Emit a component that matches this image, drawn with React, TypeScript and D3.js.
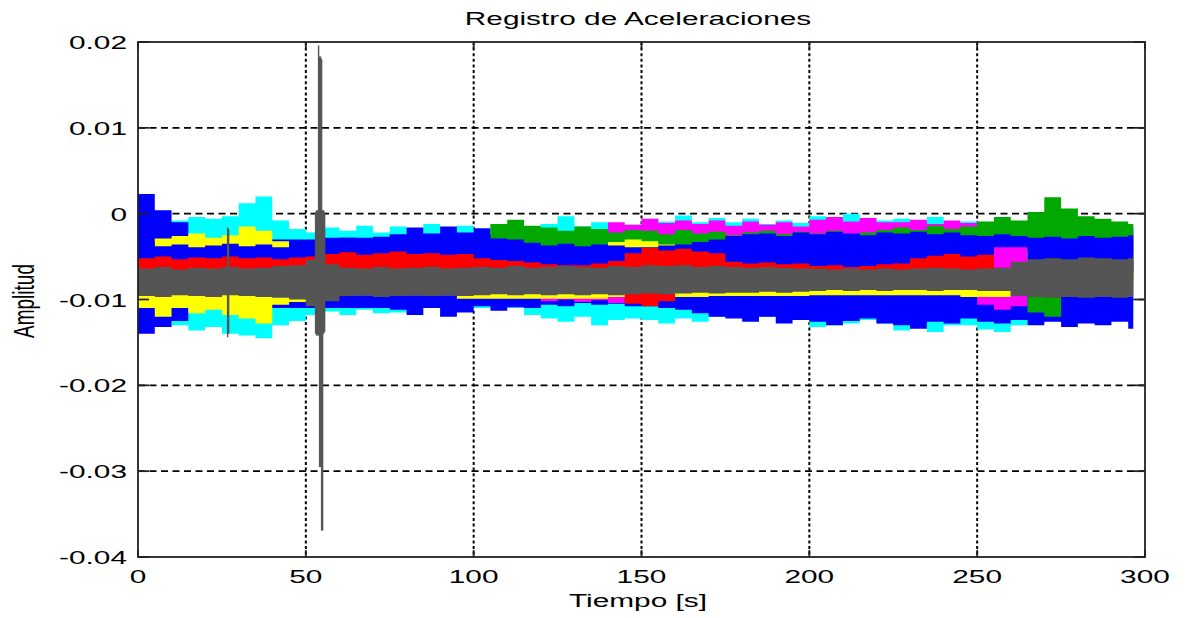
import React from 'react';
import * as d3 from 'd3';

const W = 1186;
const H = 618;
const PLOT = { left: 138, right: 1145, top: 42, bottom: 557 };

const TITLE = 'Registro de Aceleraciones';
const X_LABEL = 'Tiempo [s]';
const Y_LABEL = 'Amplitud';
const X_TICKS = [0, 50, 100, 150, 200, 250, 300];
const X_TICK_LABELS = ['0', '50', '100', '150', '200', '250', '300'];
const Y_TICKS = [0.02, 0.01, 0, -0.01, -0.02, -0.03, -0.04];
const Y_TICK_LABELS = ['0.02', '0.01', '0', '-0.01', '-0.02', '-0.03', '-0.04'];

// start of each 5 s window (s); the record ends at END_T
const BIN_START = [
  0, 5, 10, 15, 20, 25, 30, 35, 40, 45, 50, 55, 60, 65, 70, 75, 80, 85, 90, 95,
  100, 105, 110, 115, 120, 125, 130, 135, 140, 145, 150, 155, 160, 165, 170, 175, 180, 185, 190, 195,
  200, 205, 210, 215, 220, 225, 230, 235, 240, 245, 250, 255, 260, 265, 270, 275, 280, 285, 290, 295,
];
const END_T = 296.5;
const MILLI = 1e-3; // envelope values below are in thousandths

// per-window max / min of each channel (x1e-3)
const CYAN_HI = [-2.5, -2.2, -0.8, -0.4, -0.6, -0.3, 1.2, 2.0, -0.8, -1.8, -2.2, -1.6, -2.0, -1.4, -2.2, -1.5, -2.3, -1.2, -2.2, -1.4,
  -2.4, -1.3, -2.2, -2.0, -1.2, -0.3, -1.5, -1.0, -1.6, -1.3, -0.6, -0.9, -0.2, -1.0, -0.5, -1.0, -0.6, -1.2, -0.8, -1.1,
  -0.3, -0.6, 0.0, -0.5, -0.8, -0.6, -1.0, -0.4, -1.2, -0.9, -1.5, -1.5, -1.5, -1.5, -1.5, -1.5, -1.5, -1.5, -1.5, -1.5];
const CYAN_LO = [-12.0, -12.2, -13.0, -13.6, -13.2, -14.0, -14.2, -14.5, -13.0, -12.5, -11.8, -11.4, -11.8, -11.2, -11.6, -11.5, -11.0, -11.0, -11.0, -11.0,
  -11.0, -11.0, -11.0, -11.8, -12.2, -12.6, -12.0, -13.0, -12.4, -12.2, -12.4, -12.8, -12.2, -12.6, -12.0, -12.0, -12.0, -12.0, -12.0, -12.0,
  -13.2, -13.0, -12.8, -12.4, -12.8, -13.6, -13.2, -13.8, -13.0, -13.0, -13.5, -13.8, -13.0, -12.0, -12.0, -12.0, -12.0, -12.0, -12.0, -12.0];

const BLUE_A_HI = [2.3, 0.4, -1.0, -3.0, -3.0, -3.0, -3.0, -3.0, -3.0, -3.0, -3.0, -2.8, -2.8, -2.8, -2.8, -2.4, -1.6, -2.3, -1.5, -2.2,
  -1.7, -2.4, -1.9, -3.0, -3.0, -3.0, -3.0, -3.0, -3.0, -3.0, -2.5, -2.5, -2.5, -2.5, -2.5, -2.5, -2.5, -2.5, -2.5, -2.5,
  -2.5, -2.5, -2.5, -2.5, -1.2, -1.6, -1.0, -1.5, -1.3, -1.8, -1.4, -1.8, -2.0, -1.9, -1.6, -1.4, -1.7, -1.5, -1.3, -1.6];
const BLUE_A_LO = [-14.0, -13.2, -12.5, -11.0, -11.0, -11.0, -11.0, -11.0, -11.0, -11.0, -11.0, -11.0, -11.0, -11.0, -11.0, -11.2, -11.8, -11.0, -12.0, -11.5,
  -10.8, -11.3, -10.9, -11.0, -10.6, -10.8, -10.4, -10.6, -10.5, -10.8, -10.8, -11.0, -11.2, -11.6, -12.0, -12.2, -12.6, -12.0, -12.8, -12.4,
  -12.6, -13.0, -12.5, -12.2, -12.8, -13.0, -13.4, -12.6, -12.8, -12.2, -12.6, -12.8, -12.4, -13.0, -12.6, -13.2, -12.8, -13.0, -12.6, -13.4];

const MAGENTA_HI = [-6.0, -6.0, -6.0, -6.0, -6.0, -6.0, -6.0, -6.0, -6.0, -6.0, -6.0, -6.0, -6.0, -6.0, -6.0, -6.0, -6.0, -6.0, -6.0, -6.0,
  -6.0, -6.0, -5.2, -5.2, -5.2, -5.2, -3.0, -3.0, -1.0, -1.3, -0.6, -1.1, -0.8, -1.2, -0.8, -1.4, -0.9, -1.3, -1.0, -1.5,
  -0.7, -0.4, -0.9, -0.5, -1.0, -1.0, -0.7, -1.2, -0.8, -1.1, -1.6, -2.0, -2.4, -3.0, -3.0, -3.0, -3.0, -3.0, -3.0, -3.0];
const MAGENTA_LO = [-9.0, -9.0, -9.0, -9.0, -9.0, -9.0, -9.0, -9.0, -9.0, -9.0, -9.0, -9.0, -9.0, -9.0, -9.0, -9.0, -9.0, -9.0, -9.0, -9.0,
  -9.0, -9.0, -9.6, -9.8, -10.2, -10.0, -10.3, -10.1, -10.4, -10.0, -9.0, -9.0, -9.0, -9.0, -9.0, -9.0, -9.0, -9.0, -9.0, -9.0,
  -9.0, -9.0, -9.0, -9.0, -9.0, -9.0, -9.0, -9.0, -9.0, -9.0, -10.6, -11.2, -10.8, -9.0, -9.0, -9.0, -9.0, -9.0, -9.0, -9.0];

const GREEN_HI = [-4.0, -4.0, -4.0, -4.0, -4.0, -4.0, -4.0, -4.0, -4.0, -4.0, -4.0, -4.0, -4.0, -4.0, -4.0, -4.0, -4.0, -4.0, -4.0, -4.0,
  -4.0, -1.2, -0.7, -1.4, -1.6, -2.0, -1.5, -1.8, -2.2, -1.9, -2.0, -2.4, -1.9, -2.3, -2.1, -2.5, -2.2, -2.0, -2.4, -2.1,
  -2.3, -2.0, -2.5, -2.2, -1.9, -1.6, -1.9, -1.4, -1.8, -1.5, -0.9, -0.4, -0.8, 0.2, 1.9, 0.6, -0.3, -0.6, -0.9, -1.2];
const GREEN_LO = [-8.0, -8.0, -8.0, -8.0, -8.0, -8.0, -8.0, -8.0, -8.0, -8.0, -8.0, -8.0, -8.0, -8.0, -8.0, -8.0, -8.0, -8.0, -8.0, -8.0,
  -8.0, -8.0, -8.0, -8.0, -8.0, -8.0, -8.0, -8.0, -8.0, -8.0, -8.0, -8.0, -8.0, -8.0, -8.0, -8.0, -8.0, -8.0, -8.0, -8.0,
  -8.0, -8.0, -8.0, -8.0, -8.0, -8.0, -8.0, -8.0, -8.0, -8.0, -3.4, -3.2, -3.4, -11.5, -12.0, -8.0, -8.0, -8.0, -8.0, -8.0];

const YELLOW_HI = [-3.8, -2.9, -2.6, -2.3, -2.8, -2.5, -1.5, -2.0, -3.2, -3.6, -3.8, -4.5, -4.5, -4.5, -4.5, -4.5, -4.5, -4.5, -4.5, -4.5,
  -4.5, -4.5, -4.5, -4.5, -4.5, -4.5, -4.5, -4.5, -3.3, -3.0, -3.2, -3.6, -4.5, -4.5, -4.5, -4.5, -4.5, -4.5, -4.5, -4.5,
  -4.5, -4.5, -4.5, -4.5, -4.5, -4.5, -4.5, -4.5, -4.5, -4.5, -4.5, -6.5, -6.5, -4.5, -4.5, -4.5, -4.5, -4.5, -4.5, -4.5];
const YELLOW_LO = [-11.0, -12.0, -11.0, -11.6, -11.2, -11.8, -12.2, -12.8, -10.6, -10.3, -10.2, -9.5, -9.5, -9.5, -9.5, -9.5, -9.5, -9.5, -9.5, -9.9,
  -9.9, -9.9, -9.9, -9.9, -9.9, -9.9, -9.9, -9.9, -9.7, -9.7, -9.7, -9.7, -9.7, -9.7, -9.6, -9.6, -9.6, -9.6, -9.6, -9.6,
  -9.5, -9.5, -9.5, -9.5, -9.5, -9.5, -9.5, -9.5, -9.5, -9.7, -9.7, -9.7, -9.0, -9.0, -9.0, -9.0, -9.0, -9.0, -9.0, -9.0];

const BLUE_B_HI = [-3.4, -3.8, -3.6, -3.9, -3.7, -3.5, -3.8, -3.6, -3.9, -3.5, -3.3, -3.0, -2.8, -3.1, -2.7, -2.6, -2.6, -2.9, -2.4, -2.8,
  -2.5, -2.9, -3.0, -3.4, -3.7, -3.5, -3.8, -3.6, -3.7, -3.9, -3.9, -3.7, -3.6, -3.3, -3.0, -2.6, -2.4, -2.3, -2.6, -2.2,
  -2.4, -2.1, -2.3, -2.5, -2.2, -2.3, -2.1, -2.4, -2.2, -2.5, -2.6, -2.4, -2.6, -2.8, -2.7, -2.9, -2.6, -2.8, -2.7, -2.5];
const BLUE_B_LO = [-6.8, -6.8, -6.8, -6.8, -6.8, -6.8, -6.8, -6.8, -6.8, -6.8, -6.8, -6.8, -6.8, -6.8, -6.8, -6.8, -6.8, -6.8, -6.8, -6.8,
  -6.8, -6.8, -6.8, -6.8, -6.8, -6.8, -6.8, -6.8, -6.8, -6.8, -6.8, -6.8, -6.8, -6.8, -6.8, -6.8, -6.8, -6.8, -6.8, -6.8,
  -6.8, -6.8, -6.8, -6.8, -6.8, -6.8, -6.8, -6.8, -6.8, -6.8, -6.8, -3.9, -3.9, -6.8, -6.8, -6.8, -6.8, -6.8, -6.8, -6.8];

const RED_HI = [-5.2, -5.0, -5.3, -5.1, -5.2, -5.0, -5.2, -5.1, -5.3, -5.1, -5.0, -4.7, -4.5, -4.8, -4.6, -4.4, -4.7, -4.6, -4.8, -4.7,
  -5.2, -5.4, -5.5, -5.7, -5.9, -6.0, -6.0, -5.8, -5.5, -4.6, -4.0, -4.3, -4.1, -4.4, -4.6, -5.6, -5.8, -5.7, -5.9, -5.8,
  -6.1, -6.0, -6.2, -6.1, -5.9, -5.8, -5.2, -4.9, -4.7, -5.0, -4.8, -6.3, -6.3, -5.6, -5.6, -5.6, -5.6, -5.6, -5.6, -5.6];
const RED_LO = [-7.5, -7.5, -7.5, -7.5, -7.5, -7.5, -7.5, -7.5, -7.5, -7.5, -7.5, -7.5, -7.5, -7.5, -7.5, -7.5, -7.5, -7.5, -7.5, -7.5,
  -7.5, -7.5, -7.5, -7.5, -7.5, -7.5, -7.5, -7.5, -7.5, -10.5, -10.8, -10.2, -7.5, -7.5, -7.5, -7.5, -7.5, -7.5, -7.5, -7.5,
  -7.5, -7.5, -7.5, -7.5, -7.5, -7.5, -7.5, -7.5, -7.5, -7.5, -7.5, -7.5, -7.5, -7.5, -7.5, -7.5, -7.5, -7.5, -7.5, -7.5];

const GRAY_HI = [-6.4, -6.2, -6.5, -6.3, -6.4, -6.2, -6.4, -6.3, -6.1, -6.0, -5.4, -5.9, -6.3, -6.4, -6.2, -6.4, -6.3, -6.2, -6.4, -6.3,
  -6.2, -6.3, -6.1, -6.3, -6.2, -6.1, -6.2, -6.3, -6.1, -6.2, -6.0, -6.1, -6.0, -6.2, -6.1, -6.2, -6.3, -6.2, -6.3, -6.4,
  -6.4, -6.5, -6.4, -6.5, -6.4, -6.5, -6.4, -6.3, -6.4, -6.5, -6.4, -6.3, -5.6, -5.3, -5.2, -5.3, -5.1, -5.2, -5.3, -5.2];
const GRAY_LO = [-9.6, -9.7, -9.5, -9.6, -9.7, -9.5, -9.6, -9.7, -9.8, -10.0, -10.8, -10.2, -9.6, -9.5, -9.7, -9.6, -9.5, -9.6, -9.5, -9.6,
  -9.5, -9.4, -9.5, -9.4, -9.5, -9.4, -9.5, -9.4, -9.5, -9.4, -9.3, -9.4, -9.3, -9.2, -9.3, -9.2, -9.2, -9.1, -9.2, -9.1,
  -9.0, -8.9, -9.0, -8.9, -9.0, -8.9, -8.9, -9.0, -8.9, -8.9, -9.0, -9.0, -9.6, -9.7, -9.8, -9.7, -9.8, -9.7, -9.8, -9.7];

// short transients of the gray channel: time (s), max, min (x1e-3)
const GRAY_PEAK_T = [26.7, 27.0, 52.9, 53.2, 53.5, 53.8, 54.1, 54.4, 54.7, 55.0, 55.3, 55.6];
const GRAY_PEAK_HI = [-1.6, -1.8, 0.2, 0.4, 0.4, 19.6, 18.3, 18.3, 18.0, 0.4, 0.4, 0.2];
const GRAY_PEAK_LO = [-14.4, -14.0, -14.0, -14.2, -14.2, -14.2, -29.5, -29.5, -36.9, -36.9, -14.0, -13.8];

const SERIES = [
  { name: 'Canal 1', color: '#00ffff', hi: CYAN_HI, lo: CYAN_LO },
  { name: 'Canal 2', color: '#0000ff', hi: BLUE_A_HI, lo: BLUE_A_LO },
  { name: 'Canal 3', color: '#ff00ff', hi: MAGENTA_HI, lo: MAGENTA_LO },
  { name: 'Canal 4', color: '#00a800', hi: GREEN_HI, lo: GREEN_LO },
  { name: 'Canal 5', color: '#ffff00', hi: YELLOW_HI, lo: YELLOW_LO },
  { name: 'Canal 6', color: '#0000ff', hi: BLUE_B_HI, lo: BLUE_B_LO },
  { name: 'Canal 7', color: '#ff0000', hi: RED_HI, lo: RED_LO },
  { name: 'Canal 8', color: '#555555', hi: GRAY_HI, lo: GRAY_LO },
];

const FONT = "'Liberation Sans', Arial, sans-serif";
const FS = 19;
const SX = 1.57;

export default function App() {
  const x = d3.scaleLinear().domain([0, 300]).range([PLOT.left, PLOT.right]);
  const y = d3.scaleLinear().domain([-0.04, 0.02]).range([PLOT.bottom, PLOT.top]);

  type Row = { t: number; hi: number; lo: number };
  const area = d3
    .area<Row>()
    .x((d) => x(d.t))
    .y0((d) => y(d.lo * MILLI))
    .y1((d) => y(d.hi * MILLI))
    .curve(d3.curveLinear);

  // each window is drawn as a flat block from its start to the next window's start
  const rowsFor = (hi: number[], lo: number[]): Row[] => {
    const rows: Row[] = [];
    BIN_START.forEach((t, i) => {
      const tEnd = i + 1 < BIN_START.length ? BIN_START[i + 1] : END_T;
      rows.push({ t, hi: hi[i], lo: lo[i] });
      rows.push({ t: tEnd, hi: hi[i], lo: lo[i] });
    });
    return rows;
  };

  const tickLenX = 7;
  const tickLenY = 11;

  return (
    <svg
      width={W}
      height={H}
      viewBox={`0 0 ${W} ${H}`}
      style={{ position: 'absolute', left: 0, top: 0, background: '#fff' }}
    >
      <rect x={0} y={0} width={W} height={H} fill="#fff" />
      {/* grid */}
      <g stroke="#000" fill="none">
        {X_TICKS.slice(1, -1).map((v) => (
          <line key={`gx${v}`} x1={x(v)} x2={x(v)} y1={PLOT.top} y2={PLOT.bottom} strokeWidth={2} strokeDasharray="3,2.6" />
        ))}
        {Y_TICKS.slice(1, -1).map((v) => (
          <line key={`gy${v}`} x1={PLOT.left} x2={PLOT.right} y1={y(v)} y2={y(v)} strokeWidth={1.6} strokeDasharray="7,4.5" />
        ))}
      </g>
      {/* data */}
      <g>
        {SERIES.map((s) => (
          <path key={s.name} d={area(rowsFor(s.hi, s.lo)) || ''} fill={s.color} stroke="none" />
        ))}
        {GRAY_PEAK_T.map((t, i) => (
          <line
            key={`pk${i}`}
            x1={x(t)}
            x2={x(t)}
            y1={y(GRAY_PEAK_HI[i] * MILLI)}
            y2={y(GRAY_PEAK_LO[i] * MILLI)}
            stroke="#555555"
            strokeWidth={1.4}
          />
        ))}
      </g>
      {/* box and ticks */}
      <g stroke="#222" fill="none" strokeWidth={1.8}>
        <rect x={PLOT.left} y={PLOT.top} width={PLOT.right - PLOT.left} height={PLOT.bottom - PLOT.top} />
        {X_TICKS.map((v) => (
          <g key={`tx${v}`}>
            <line x1={x(v)} x2={x(v)} y1={PLOT.bottom} y2={PLOT.bottom - tickLenX} />
            <line x1={x(v)} x2={x(v)} y1={PLOT.top} y2={PLOT.top + tickLenX} />
          </g>
        ))}
        {Y_TICKS.map((v) => (
          <g key={`ty${v}`}>
            <line x1={PLOT.left} x2={PLOT.left + tickLenY} y1={y(v)} y2={y(v)} />
            <line x1={PLOT.right} x2={PLOT.right - tickLenY} y1={y(v)} y2={y(v)} />
          </g>
        ))}
      </g>
      {/* labels */}
      <g fontFamily={FONT} fontSize={FS} fill="#000">
        {Y_TICKS.map((v, i) => (
          <text key={`ly${v}`} transform={`translate(127, ${y(v) + 7}) scale(${SX},1)`} textAnchor="end">
            {Y_TICK_LABELS[i]}
          </text>
        ))}
        {X_TICKS.map((v, i) => (
          <text key={`lx${v}`} transform={`translate(${x(v)}, 583) scale(${SX},1)`} textAnchor="middle">
            {X_TICK_LABELS[i]}
          </text>
        ))}
        <text transform={`translate(638, 25) scale(${SX},1)`} textAnchor="middle">
          {TITLE}
        </text>
        <text transform={`translate(638, 607) scale(${SX},1)`} textAnchor="middle">
          {X_LABEL}
        </text>
        <text transform={`translate(34, 301) scale(${SX},1) rotate(-90)`} textAnchor="middle">
          {Y_LABEL}
        </text>
      </g>
    </svg>
  );
}
